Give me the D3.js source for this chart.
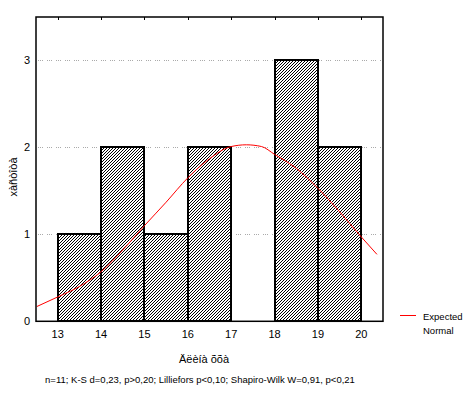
<!DOCTYPE html>
<html>
<head>
<meta charset="utf-8">
<script src="https://cdn.jsdelivr.net/npm/d3@7"></script>
<style>
  body { margin: 0; background: #fff; }
  text { font-family: "Liberation Sans", Arial, sans-serif; fill: #000; }
</style>
</head>
<body>
<div id="chart"></div>
<script>
// histogram bins (left edge) and counts
let binStart = [13, 14, 15, 16, 17, 18, 19];
let counts = [1, 2, 1, 2, 0, 3, 2];

// expected normal curve
let curveX = [12.52, 13.0, 13.5, 14.0, 14.5, 15.0, 15.5, 16.0, 16.5, 17.0, 17.35, 17.7, 18.0, 18.5, 19.0, 19.5, 20.0, 20.36];
let curveY = [0.17, 0.28, 0.40, 0.57, 0.82, 1.10, 1.37, 1.65, 1.87, 2.01, 2.03, 2.01, 1.92, 1.76, 1.53, 1.26, 0.97, 0.77];

let xTicks = [13, 14, 15, 16, 17, 18, 19, 20];
let yTicks = [0, 1, 2, 3];

let xTitle = "Äëèíà õõà";
let yTitle = "xàñòîòà";
let statsText = "n=11; K-S d=0,23, p>0,20; Lilliefors p<0,10; Shapiro-Wilk W=0,91, p<0,21";

let w = 472, h = 394;
let pLeft = 36, pRight = 383, pTop = 17, pBottom = 321.3;

let svg = d3.select("#chart").append("svg")
  .attr("width", w)
  .attr("height", h);

// hatch pattern "/" pixel lines
let pat = svg.append("defs").append("pattern")
  .attr("id", "hatch")
  .attr("patternUnits", "userSpaceOnUse")
  .attr("width", 3)
  .attr("height", 3);
pat.append("rect").attr("width", 3).attr("height", 3).attr("fill", "#fff");
[[0, 2], [1, 1], [2, 0]].forEach(p => {
  pat.append("rect").attr("x", p[0]).attr("y", p[1])
    .attr("width", 1).attr("height", 1).attr("fill", "#000")
    .attr("shape-rendering", "crispEdges");
});

let x = d3.scaleLinear().domain([12.5, 20.5]).range([pLeft, pRight]);
let y = d3.scaleLinear().domain([0, 3.5]).range([pBottom, pTop]);

// gridlines
svg.selectAll(".grid")
  .data(yTicks.filter(d => d > 0))
  .enter().append("line")
  .attr("x1", pLeft + 2).attr("x2", pRight - 1)
  .attr("y1", d => Math.round(y(d)) + 0.5).attr("y2", d => Math.round(y(d)) + 0.5)
  .attr("stroke", "#aaa")
  .attr("stroke-width", 1)
  .attr("stroke-dasharray", "1,1,1,1,1,4");

// bars
let bars = binStart.map((b, i) => ({ x0: b, x1: b + 1, n: counts[i] })).filter(d => d.n > 0);
svg.selectAll(".bar")
  .data(bars)
  .enter().append("rect")
  .attr("x", d => Math.round(x(d.x0)))
  .attr("y", d => Math.round(y(d.n)))
  .attr("width", d => Math.round(x(d.x1)) - Math.round(x(d.x0)))
  .attr("height", d => Math.round(y(0)) - Math.round(y(d.n)))
  .attr("fill", "url(#hatch)")
  .attr("stroke", "#000")
  .attr("stroke-width", 2);

// normal curve
let line = d3.line()
  .x(d => x(d[0]))
  .y(d => y(d[1]))
  .curve(d3.curveMonotoneX);
svg.append("path")
  .datum(curveX.map((v, i) => [v, curveY[i]]))
  .attr("d", line)
  .attr("fill", "none")
  .attr("stroke", "#ff0000")
  .attr("stroke-width", 1);

// frame
svg.append("rect")
  .attr("x", pLeft).attr("y", pTop)
  .attr("width", pRight - pLeft).attr("height", pBottom - pTop)
  .attr("fill", "none")
  .attr("stroke", "#000")
  .attr("stroke-width", 1.5);

// small ticks on top border
svg.selectAll(".ttick")
  .data(xTicks)
  .enter().append("line")
  .attr("x1", d => Math.round(x(d)) + 0.5).attr("x2", d => Math.round(x(d)) + 0.5)
  .attr("y1", pTop).attr("y2", pTop + 3)
  .attr("stroke", "#000");

// x tick labels
svg.selectAll(".xlab")
  .data(xTicks)
  .enter().append("text")
  .attr("x", d => x(d))
  .attr("y", 338)
  .attr("text-anchor", "middle")
  .style("font-size", "11px")
  .text(d => d);

// y tick labels
svg.selectAll(".ylab")
  .data(yTicks)
  .enter().append("text")
  .attr("x", 30)
  .attr("y", d => y(d) + 4)
  .attr("text-anchor", "end")
  .style("font-size", "11px")
  .text(d => d);

// axis titles
svg.append("text")
  .attr("x", 204).attr("y", 363)
  .attr("text-anchor", "middle")
  .style("font-size", "11px")
  .text(xTitle);

svg.append("text")
  .attr("transform", "translate(17,177) rotate(-90)")
  .attr("text-anchor", "middle")
  .style("font-size", "11px")
  .text(yTitle);

svg.append("text")
  .attr("x", 200).attr("y", 383)
  .attr("text-anchor", "middle")
  .style("font-size", "9.5px")
  .text(statsText);

// legend
svg.append("line")
  .attr("x1", 400).attr("x2", 416)
  .attr("y1", 315.5).attr("y2", 315.5)
  .attr("stroke", "#ff0000");
svg.append("text")
  .attr("x", 423).attr("y", 320)
  .style("font-size", "9.5px")
  .text("Expected");
svg.append("text")
  .attr("x", 423).attr("y", 334)
  .style("font-size", "9.5px")
  .text("Normal");
</script>
</body>
</html>
